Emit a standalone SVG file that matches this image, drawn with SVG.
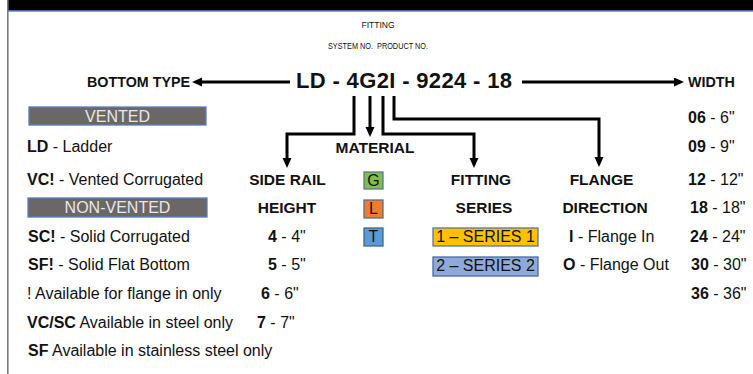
<svg xmlns="http://www.w3.org/2000/svg" width="753" height="374" viewBox="0 0 753 374">
<style>
text{font-family:"Liberation Sans",Arial,sans-serif;fill:#111}
.t{font-size:16px}
.h{font-size:15.5px;font-weight:bold}
.b{font-weight:bold}
.c{text-anchor:middle}
.small{font-size:8.5px;white-space:pre}
.box{stroke-width:1.3}
.conn{fill:none;stroke:#000;stroke-width:3;stroke-linejoin:miter}
</style>
<defs>
<marker id="ah" markerUnits="userSpaceOnUse" markerWidth="12" markerHeight="10" refX="1" refY="4.5" orient="auto">
<path d="M0,0 L10,4.5 L0,9 z" fill="#000"/>
</marker>
</defs>
<rect x="0" y="0" width="753" height="374" fill="#fff"/>
<g id="frame">
<rect x="7" y="0" width="746" height="10" fill="#000"/>
<rect x="7" y="10" width="746" height="1.6" fill="#4a6aa0"/>
<rect x="7" y="0" width="1.6" height="374" fill="#7a7a7a"/>
</g>
<g id="header">
<text class="small c" x="378" y="28">FITTING</text>
<text class="small" x="328" y="49" textLength="100" lengthAdjust="spacingAndGlyphs">SYSTEM NO.  PRODUCT NO.</text>
</g>
<g id="code">
<text x="296" y="88" font-size="22" font-weight="bold" textLength="216" lengthAdjust="spacing">LD - 4G2I - 9224 - 18</text>
</g>
<g id="bottom-type">
<text x="87" y="87" font-size="14.3" font-weight="bold">BOTTOM TYPE</text>
</g>
<g id="width-label">
<text x="688" y="87" font-size="14.3" font-weight="bold">WIDTH</text>
</g>
<g id="connectors">
<path class="conn" d="M290,82 H201" marker-end="url(#ah)"/>
<path class="conn" d="M522,82 H675" marker-end="url(#ah)"/>
<path class="conn" d="M354,96 V134 H287 V159" marker-end="url(#ah)"/>
<path class="conn" d="M370,96 V128" marker-end="url(#ah)"/>
<path class="conn" d="M383,96 V134 H474 V159" marker-end="url(#ah)"/>
<path class="conn" d="M394,96 V119 H599 V158" marker-end="url(#ah)"/>
</g>
<g id="bottom-types">
<rect class="box" x="29" y="107" width="177" height="18" fill="#6b6767" stroke="#5a7db5"/>
<text class="t c" x="117.5" y="122" style="fill:#e8e8e8">VENTED</text>
<text class="t" x="27" y="152"><tspan class="b">LD</tspan> - Ladder</text>
<text class="t" x="27" y="185"><tspan class="b">VC!</tspan> - Vented Corrugated</text>
<rect class="box" x="28" y="198" width="179" height="19" fill="#6b6767" stroke="#5a7db5"/>
<text class="t c" x="117.5" y="213" style="fill:#e8e8e8">NON-VENTED</text>
<text class="t" x="28" y="242"><tspan class="b">SC!</tspan> - Solid Corrugated</text>
<text class="t" x="28" y="270"><tspan class="b">SF!</tspan> - Solid Flat Bottom</text>
<text class="t" x="27" y="299">! Available for flange in only</text>
<text class="t" x="27" y="328"><tspan class="b">VC/SC</tspan> Available in steel only</text>
<text class="t" x="28" y="356"><tspan class="b">SF</tspan> Available in stainless steel only</text>
</g>
<g id="side-rail-height">
<text class="h c" x="287.5" y="185">SIDE RAIL</text>
<text class="h c" x="287" y="213">HEIGHT</text>
<text class="t" x="268" y="242"><tspan class="b">4</tspan> - 4"</text>
<text class="t" x="268" y="270"><tspan class="b">5</tspan> - 5"</text>
<text class="t" x="261" y="299"><tspan class="b">6</tspan> - 6"</text>
<text class="t" x="257" y="328"><tspan class="b">7</tspan> - 7"</text>
</g>
<g id="material">
<text class="h c" x="375" y="153">MATERIAL</text>
<rect class="box" x="364" y="172" width="19" height="17" fill="#7dc045" stroke="#5b7a9a"/>
<text class="t c" x="373.5" y="186">G</text>
<rect class="box" x="364" y="200" width="19" height="18" fill="#ed7d31" stroke="#5b6f8a"/>
<text class="t c" x="373.5" y="214">L</text>
<rect class="box" x="364" y="228" width="19" height="18" fill="#5b9bd5" stroke="#44648a"/>
<text class="t c" x="373.5" y="242">T</text>
</g>
<g id="fitting-series">
<text class="h c" x="481" y="185">FITTING</text>
<text class="h c" x="484" y="213">SERIES</text>
<rect class="box" x="433" y="228" width="105" height="18" fill="#ffc000" stroke="#5a74a0"/>
<text class="t c" x="485.5" y="242">1 – SERIES 1</text>
<rect class="box" x="433" y="257" width="105" height="19" fill="#8eaadb" stroke="#4a6aa6"/>
<text class="t c" x="485.5" y="271">2 – SERIES 2</text>
</g>
<g id="flange-direction">
<text class="h c" x="601.5" y="185">FLANGE</text>
<text class="h c" x="605" y="213">DIRECTION</text>
<text class="t" x="569" y="242"><tspan class="b">I</tspan> - Flange In</text>
<text class="t" x="563" y="270"><tspan class="b">O</tspan> - Flange Out</text>
</g>
<g id="widths">
<text class="t" x="688" y="123"><tspan class="b">06</tspan> - 6"</text>
<text class="t" x="688" y="152"><tspan class="b">09</tspan> - 9"</text>
<text class="t" x="688" y="185"><tspan class="b">12</tspan> - 12"</text>
<text class="t" x="690" y="213"><tspan class="b">18</tspan> - 18"</text>
<text class="t" x="690" y="242"><tspan class="b">24</tspan> - 24"</text>
<text class="t" x="691" y="270"><tspan class="b">30</tspan> - 30"</text>
<text class="t" x="691" y="299"><tspan class="b">36</tspan> - 36"</text>
</g>
</svg>
